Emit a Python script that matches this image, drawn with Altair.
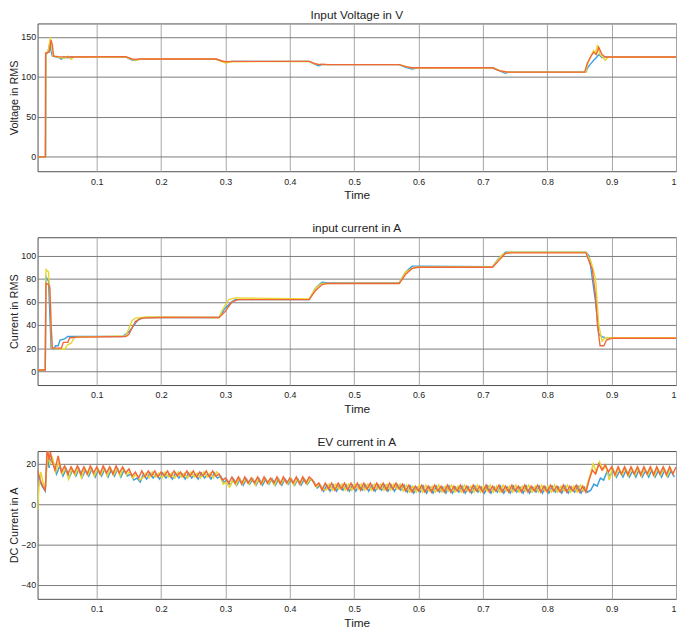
import altair as alt
import pandas as pd

# ---------------- data ----------------
X_TICKS = [0.1, 0.2, 0.3, 0.4, 0.5, 0.6, 0.7, 0.8, 0.9, 1.0]

# Panel 1: Input Voltage (t, value)
V_BLUE = [(0.008, 0), (0.0205, 0), (0.021, 128), (0.024, 131), (0.027, 142), (0.029, 132), (0.031, 126),
          (0.038, 125), (0.042, 124), (0.045, 122), (0.048, 125), (0.055, 124), (0.06, 125), (0.145, 125),
          (0.15, 123), (0.155, 121), (0.16, 120.5), (0.165, 122), (0.285, 122.5), (0.295, 119.5),
          (0.305, 118.5), (0.31, 119.5), (0.43, 119.5), (0.44, 115.5), (0.445, 114), (0.45, 115.5),
          (0.57, 115.5), (0.58, 112), (0.59, 110), (0.6, 111.5), (0.715, 111.5), (0.725, 108),
          (0.735, 104.5), (0.74, 106), (0.86, 106), (0.863, 112), (0.868, 117), (0.872, 121),
          (0.876, 124), (0.88, 128), (0.885, 124), (0.89, 125.5), (0.895, 124.5), (0.9, 125), (1.0, 125)]
V_YELLOW = [(0.008, 0), (0.0205, 0), (0.021, 129), (0.025, 134), (0.028, 150), (0.03, 138), (0.032, 126),
            (0.04, 125), (0.05, 123.5), (0.055, 126), (0.06, 122), (0.065, 125), (0.145, 125), (0.155, 122),
            (0.16, 121), (0.17, 122.5), (0.285, 122.5), (0.295, 119), (0.3, 117.5), (0.31, 119),
            (0.43, 119.5), (0.44, 116), (0.45, 115.5), (0.57, 115.5), (0.585, 112), (0.595, 111),
            (0.715, 111.5), (0.73, 107), (0.74, 106), (0.86, 106), (0.863, 117), (0.867, 125),
            (0.872, 133), (0.875, 130), (0.878, 140), (0.882, 128), (0.887, 124), (0.89, 121),
            (0.895, 125), (1.0, 125)]
V_ORANGE = [(0.008, 0), (0.02, 0), (0.0205, 130), (0.026, 131), (0.029, 146), (0.031, 140), (0.033, 126),
            (0.04, 125.5), (0.06, 125), (0.145, 125.5), (0.155, 122.5), (0.16, 122), (0.165, 122.5),
            (0.285, 122.5), (0.295, 120), (0.3, 119), (0.31, 119.5), (0.43, 119.5), (0.44, 116.5),
            (0.445, 115.5), (0.45, 116), (0.46, 115.5), (0.57, 115.5), (0.58, 113), (0.59, 111.5),
            (0.6, 111.5), (0.715, 111.5), (0.725, 108), (0.735, 106.5), (0.74, 106), (0.858, 106),
            (0.862, 117), (0.868, 126), (0.872, 131), (0.876, 128), (0.88, 137), (0.885, 128),
            (0.89, 125), (0.9, 125), (1.0, 125)]

# Panel 2: input current (t, value)
I_BLUE = [(0.008, 1), (0.02, 1), (0.021, 82), (0.025, 78), (0.027, 50), (0.029, 20), (0.033, 19.5),
          (0.036, 22), (0.04, 22), (0.043, 27), (0.05, 28), (0.055, 30), (0.14, 30), (0.15, 34),
          (0.155, 38), (0.165, 45), (0.175, 46.5), (0.29, 46.5), (0.3, 55), (0.31, 60), (0.315, 62),
          (0.43, 62), (0.44, 72), (0.45, 77), (0.46, 76.5), (0.57, 76.5), (0.58, 86), (0.59, 91),
          (0.6, 91), (0.715, 90.5), (0.725, 98), (0.735, 103), (0.86, 103), (0.865, 100), (0.87, 80),
          (0.875, 60), (0.88, 32), (0.885, 30), (0.89, 29), (1.0, 29)]
I_YELLOW = [(0.008, 1), (0.02, 1), (0.021, 88), (0.025, 86), (0.028, 60), (0.03, 20), (0.05, 19),
            (0.055, 23), (0.06, 24), (0.065, 29), (0.07, 29.5), (0.145, 30.5), (0.155, 44), (0.16, 46),
            (0.17, 46.5), (0.18, 47), (0.29, 46.5), (0.295, 53), (0.305, 62), (0.315, 63.5),
            (0.43, 62.5), (0.44, 72), (0.45, 76), (0.57, 76.5), (0.58, 86), (0.595, 90), (0.715, 90.5),
            (0.73, 101), (0.74, 103), (0.86, 103), (0.868, 95), (0.875, 80), (0.88, 40), (0.885, 26),
            (0.89, 29), (1.0, 29)]
I_ORANGE = [(0.008, 1), (0.02, 1), (0.021, 76), (0.025, 75), (0.027, 73), (0.029, 40), (0.031, 20),
            (0.045, 20), (0.048, 25), (0.055, 25), (0.058, 29), (0.07, 29.5), (0.145, 30), (0.15, 32),
            (0.16, 43), (0.17, 46), (0.2, 46.5), (0.29, 46.5), (0.3, 52), (0.31, 60), (0.32, 62),
            (0.43, 62), (0.44, 70), (0.45, 75), (0.46, 76), (0.57, 76), (0.58, 84), (0.59, 89),
            (0.6, 90), (0.715, 90), (0.725, 96), (0.735, 102), (0.745, 102.5), (0.86, 102.5),
            (0.865, 95), (0.87, 88), (0.875, 65), (0.878, 40), (0.882, 22), (0.888, 22), (0.892, 27),
            (0.9, 28.5), (1.0, 28.5)]

# Panel 3: EV current - start-up points, then sampled ripple segments
EV_STEP = 0.005
EV_SEG_START = [0.03, 0.15, 0.29, 0.435, 0.575, 0.865]
EV_PHASE = {"blue": 0.0025, "yellow": 0.00125, "orange": 0.0}   # sample-time shift of each trace

EV_BLUE_HEAD = [(0.008, 15), (0.012, 11), (0.016, 8.5), (0.02, 6.5), (0.023, 25), (0.026, 18), (0.028, 22)]
EV_YELLOW_HEAD = [(0.008, -3), (0.01, 8), (0.013, 16), (0.017, 10), (0.02, 8), (0.024, 27), (0.027, 20)]
EV_ORANGE_HEAD = [(0.008, 17), (0.012, 12), (0.016, 9), (0.02, 7), (0.023, 28), (0.026, 22), (0.028, 26)]

EV_BLUE_SEGS = [
    [20, 15, 19, 14, 17.5, 13.5, 17, 14, 17.5, 13.5, 17, 14, 17.5, 13.5, 17, 14, 17.5, 13.5, 17, 14,
     17.5, 13.5, 17, 14],
    [15, 12, 13, 11, 15, 12.5, 15.5, 13, 15, 12.5, 15.5, 13, 15, 12.5, 15.5, 13, 15, 12.5, 15.5, 13,
     15, 12.5, 15.5, 13, 15, 12.5, 15.5, 13],
    [14, 11, 12, 9.5, 12.5, 9.5, 12.5, 9.5, 12.5, 10, 12.5, 9.5, 12.5, 9.5, 12.5, 10, 12.5, 9.5, 12.5, 9.5,
     12.5, 10, 12.5, 9.5, 12.5, 9.5, 12.5, 10, 12.5],
    [11, 8, 9.5, 6.5, 9.5, 6.5, 9.5, 6.5, 9.5, 7, 9.5, 6.5, 9.5, 6.5, 9.5, 7, 9.5, 6.5, 9.5, 6.5,
     9.5, 7, 9.5, 6.5, 9.5, 6.5, 9.5, 7],
    [9.5, 6, 9, 5.5, 8.5, 6, 9, 5.5, 8.5, 5.5, 9, 6, 8.5, 5.5, 9, 5.5, 8.5, 6, 9, 5.5,
     8.5, 5.5, 9, 6, 8.5, 5.5, 9, 5.5, 8.5, 6, 9, 5.5, 8.5, 5.5, 9, 6, 8.5, 5.5, 9, 5.5,
     8.5, 6, 9, 5.5, 8.5, 5.5, 9, 6, 8.5, 5.5, 9, 5.5, 8.5, 6, 9, 5.5, 8.5, 6],
    [7, 10, 9, 13, 12, 16, 14, 17, 13.5, 16.5, 13.5, 17, 13.5, 16.5, 13.5, 17, 13.5, 16.5, 13.5, 17,
     13.5, 16.5, 13.5, 17, 13.5, 16.5, 13.5, 17],
]
EV_YELLOW_SEGS = [
    [23, 16, 21, 15, 18, 12.5, 18, 14.5, 18, 13, 18, 14.5, 18, 14, 17.5, 14.5, 18, 14, 18, 14.5,
     17.5, 14, 18, 14.5],
    [16, 13, 15, 12, 13, 15.5, 13, 16, 13.5, 15.5, 13, 16, 13.5, 15.5, 13, 16, 13.5, 15.5, 13, 16,
     13.5, 15.5, 13, 16, 13.5, 15.5, 13, 16],
    [14.5, 10, 11, 8.5, 12, 9.5, 13, 10, 12.5, 10, 13, 9.5, 12.5, 10, 13, 10, 12.5, 9.5, 13, 10,
     12.5, 10, 13, 9.5, 12.5, 10, 13, 10, 12.5],
    [11.5, 8.5, 10, 7.5, 7, 10, 7, 10, 7.5, 10, 7, 10, 7, 10, 7.5, 10, 7, 10, 7, 10,
     7.5, 10, 7, 10, 7, 10, 7.5, 10],
    [6.5, 9.5, 6, 9, 6, 9.5, 6, 9.5, 6.5, 9, 6, 9.5, 6, 9, 6.5, 9.5, 6, 9, 6, 9.5,
     6.5, 9, 6, 9.5, 6, 9, 6.5, 9.5, 6, 9, 6, 9.5, 6.5, 9, 6, 9.5, 6, 9, 6.5, 9.5,
     6, 9, 6, 9.5, 6.5, 9, 6, 9.5, 6, 9, 6.5, 9.5, 6, 9, 6, 9.5, 6.5, 9],
    [14, 20, 16, 21, 17, 19, 12, 18, 14, 18, 14.5, 18, 14, 18, 14.5, 18, 14, 18, 14.5, 18,
     14, 18, 14.5, 18, 14, 18, 14.5, 18],
]
EV_ORANGE_SEGS = [
    [22, 17, 24, 16, 19, 15, 18.5, 15.5, 19, 15, 18.5, 15, 19, 15.5, 18.5, 15, 19, 15.5, 18.5, 15,
     19, 15.5, 18.5, 15.5],
    [17.5, 14, 16, 13, 16.5, 13.5, 16.5, 14, 16.5, 13.5, 16, 14, 16.5, 13.5, 16.5, 14, 16, 13.5, 16.5, 14,
     16.5, 13.5, 16, 14, 16.5, 13.5, 16.5, 14],
    [15, 12, 13, 10.5, 13.5, 10.5, 13.5, 10, 13.5, 10.5, 13, 10.5, 13.5, 10, 13.5, 10.5, 13, 10.5, 13.5, 10,
     13.5, 10.5, 13, 10.5, 13.5, 10, 13.5, 10.5, 13.5],
    [12, 9, 10.5, 7, 10.5, 7.5, 10.5, 7, 10.5, 7.5, 10.5, 7, 10.5, 7.5, 10.5, 7, 10.5, 7.5, 10.5, 7,
     10.5, 7.5, 10.5, 7, 10.5, 7.5, 10.5, 7.5],
    [10, 6.5, 9.5, 6, 9, 6.5, 9.5, 6, 9, 6, 9.5, 6.5, 9, 6, 9.5, 6, 9, 6.5, 9.5, 6,
     9, 6, 9.5, 6.5, 9, 6, 9.5, 6, 9, 6.5, 9.5, 6, 9, 6, 9.5, 6.5, 9, 6, 9.5, 6,
     9, 6.5, 9.5, 6, 9, 6, 9.5, 6.5, 9, 6, 9.5, 6, 9, 6.5, 9.5, 6, 9, 6],
    [12, 17, 15, 20, 17, 19.5, 16, 18.5, 14.5, 18.5, 15, 18.5, 14.5, 18.5, 15, 18.5, 14.5, 18.5, 15, 18.5,
     14.5, 18.5, 15, 18.5, 14.5, 18.5, 15, 18.5],
]

# ---------------- styling ----------------
BLUE, YELLOW, ORANGE = "#3a9fe0", "#e8d630", "#f2673a"
FONT = "Liberation Sans"
W, H = 648, 150
X_DOMAIN = [0.008, 1.0]


def ev_points(head, segs, phase):
    pts = list(head)
    for start, vals in zip(EV_SEG_START, segs):
        for i, v in enumerate(vals):
            t = round(start + phase + EV_STEP * i, 5)
            if t <= 1.0:
                pts.append((t, v))
    return pts


def panel(series, title, ytitle, ydom, yticks, sw=1.4):
    layers = []
    for pts, col in series:
        df = pd.DataFrame(pts, columns=["t", "v"])
        layers.append(
            alt.Chart(df).mark_line(color=col, strokeWidth=sw, clip=True).encode(
                x=alt.X("t:Q", scale=alt.Scale(domain=X_DOMAIN, nice=False, zero=False),
                        axis=alt.Axis(values=X_TICKS, title="Time",
                                      labelExpr="datum.value == 1 ? '1' : format(datum.value, '.1f')",
                                      gridColor="#a6a6a6")),
                y=alt.Y("v:Q", scale=alt.Scale(domain=ydom, nice=False, zero=False),
                        axis=alt.Axis(values=yticks, title=ytitle, gridColor="#7a7a7a")),
            )
        )
    return alt.layer(*layers).properties(width=W, height=H, title=alt.TitleParams(title))


p1 = panel([(V_BLUE, BLUE), (V_YELLOW, YELLOW), (V_ORANGE, ORANGE)],
           "Input Voltage in V", "Voltage in RMS", [-18, 167], [0, 50, 100, 150])
p2 = panel([(I_BLUE, BLUE), (I_YELLOW, YELLOW), (I_ORANGE, ORANGE)],
           "input current in A", "Current in RMS", [-12, 116], [0, 20, 40, 60, 80, 100])
p3 = panel([(ev_points(EV_BLUE_HEAD, EV_BLUE_SEGS, EV_PHASE["blue"]), BLUE),
            (ev_points(EV_YELLOW_HEAD, EV_YELLOW_SEGS, EV_PHASE["yellow"]), YELLOW),
            (ev_points(EV_ORANGE_HEAD, EV_ORANGE_SEGS, EV_PHASE["orange"]), ORANGE)],
           "EV current in A", "DC Current in A", [-47, 26.4], [-40, -20, 0, 20], sw=1.5)

chart = (
    alt.vconcat(p1, p2, p3, spacing=20)
    .properties(padding={"top": -5, "left": 0, "right": 0, "bottom": 0}, background="white")
    .configure_view(stroke="#4d4d4d", strokeWidth=1)
    .configure_axis(domain=False, ticks=False, tickSize=0, gridWidth=1,
                    labelFont=FONT, labelFontSize=9, labelColor="#222222", labelPadding=2,
                    titleFont=FONT, titleFontSize=11, titleFontWeight="normal",
                    titleColor="#222222", titlePadding=1)
    .configure_axisX(labelPadding=6, titlePadding=4, titleFontSize=12)
    .configure_title(font=FONT, fontSize=12, fontWeight="normal", color="#222222", offset=2)
)

chart.save("out.html", embed_options={"renderer": "svg", "actions": False})
